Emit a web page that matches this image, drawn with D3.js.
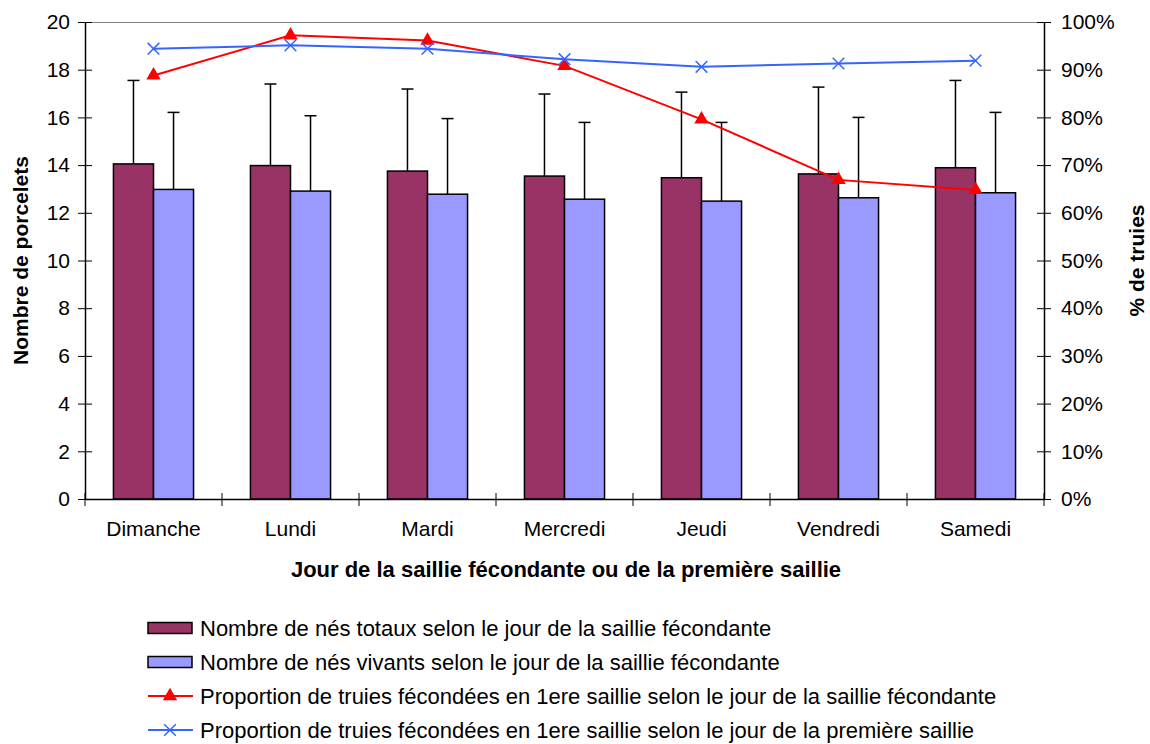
<!DOCTYPE html>
<html>
<head>
<meta charset="utf-8">
<script src="https://cdn.jsdelivr.net/npm/d3@7"></script>
<style>
  body { margin: 0; background: #fff; }
  text { font-family: "Liberation Sans", Arial, sans-serif; fill: #000; }
</style>
</head>
<body>
<script>
// layout
const width = 1150, height = 744;
const plotLeft = 85, plotRight = 1044, plotTop = 22, plotBottom = 499;

// data
const days = ["Dimanche", "Lundi", "Mardi", "Mercredi", "Jeudi", "Vendredi", "Samedi"];
const totaux = [14.05, 13.98, 13.75, 13.54, 13.47, 13.63, 13.89];
const totauxErr = [17.55, 17.4, 17.19, 16.98, 17.06, 17.27, 17.55];
const vivants = [12.98, 12.91, 12.78, 12.57, 12.49, 12.63, 12.84];
const vivantsErr = [16.21, 16.07, 15.95, 15.79, 15.79, 16.0, 16.21];
const propFec = [0.888, 0.972, 0.961, 0.908, 0.796, 0.669, 0.648];
const propPrem = [0.944, 0.951, 0.944, 0.922, 0.906, 0.913, 0.919];
const leftTicks = [0, 2, 4, 6, 8, 10, 12, 14, 16, 18, 20];
const rightTicks = [0, 0.1, 0.2, 0.3, 0.4, 0.5, 0.6, 0.7, 0.8, 0.9, 1];
const legendLabels = [
  "Nombre de nés totaux selon le jour de la saillie fécondante",
  "Nombre de nés vivants selon le jour de la saillie fécondante",
  "Proportion de truies fécondées en 1ere saillie selon le jour de la saillie fécondante",
  "Proportion de truies fécondées en 1ere saillie selon le jour de la première saillie"
];

const colTot = "#993366", colViv = "#9999FF", colRed = "#FF0000", colBlue = "#3366FF";

// scales
const x = d3.scaleBand().domain(days).range([plotLeft, plotRight]).padding(0);
const xSub = d3.scaleBand().domain(["tot", "viv"]).range([0, x.bandwidth()])
  .paddingInner(0).paddingOuter(0.71);
const y = d3.scaleLinear().domain([0, 20]).range([plotBottom, plotTop]);
const yR = d3.scaleLinear().domain([0, 1]).range([plotBottom, plotTop]);

const svg = d3.select("body").append("svg")
  .attr("width", width).attr("height", height);

// top border of plot area
svg.append("line")
  .attr("x1", plotLeft).attr("x2", plotRight).attr("y1", plotTop + 0.5).attr("y2", plotTop + 0.5)
  .attr("stroke", "#808080").attr("stroke-width", 1);

// bars
const rows = days.map((d, i) => ({day: d, tot: totaux[i], totE: totauxErr[i], viv: vivants[i], vivE: vivantsErr[i]}));
const series = [
  {key: "tot", val: "tot", err: "totE", color: colTot},
  {key: "viv", val: "viv", err: "vivE", color: colViv}
];

series.forEach(s => {
  const mid = d => x(d.day) + xSub(s.key) + xSub.bandwidth() / 2;
  const eg = svg.append("g").attr("stroke", "#000").attr("stroke-width", 1.5);
  eg.selectAll("line.v").data(rows).enter().append("line")
    .attr("x1", mid).attr("x2", mid)
    .attr("y1", d => y(d[s.val]))
    .attr("y2", d => y(d[s.err]));
  eg.selectAll("line.c").data(rows).enter().append("line")
    .attr("x1", d => mid(d) - 6)
    .attr("x2", d => mid(d) + 6)
    .attr("y1", d => y(d[s.err]))
    .attr("y2", d => y(d[s.err]));

  svg.append("g").selectAll("rect").data(rows).enter().append("rect")
    .attr("x", d => x(d.day) + xSub(s.key))
    .attr("y", d => y(d[s.val]))
    .attr("width", xSub.bandwidth())
    .attr("height", d => y(0) - y(d[s.val]))
    .attr("fill", s.color)
    .attr("stroke", "#000")
    .attr("stroke-width", 1.5);
});

// axes
const leftAxis = d3.axisLeft(y).tickValues(leftTicks).tickSizeInner(7).tickSizeOuter(0).tickPadding(8);
const gL = svg.append("g").attr("transform", `translate(${plotLeft},0)`).call(leftAxis);

const rightAxis = d3.axisRight(yR).tickValues(rightTicks).tickFormat(d3.format(".0%"))
  .tickSizeInner(7).tickSizeOuter(0).tickPadding(10);
const gR = svg.append("g").attr("transform", `translate(${plotRight},0)`).call(rightAxis);

const bottomAxis = d3.axisBottom(x).tickSize(0).tickPadding(22);
const gB = svg.append("g").attr("transform", `translate(0,${plotBottom})`).call(bottomAxis);

[gL, gR, gB].forEach(g => {
  g.select(".domain").attr("stroke", "#000").attr("stroke-width", 1.5);
  g.selectAll("text").style("font-size", "21px").attr("font-family", "Liberation Sans, Arial, sans-serif");
});
// cross ticks
gL.selectAll(".tick line").attr("x1", 7).attr("stroke", "#000");
gR.selectAll(".tick line").attr("x1", -7).attr("stroke", "#000");

// category boundary ticks
svg.append("g").selectAll("line").data(days.concat(["end"])).enter().append("line")
  .attr("x1", (d, i) => i < days.length ? x(d) : x.range()[1])
  .attr("x2", (d, i) => i < days.length ? x(d) : x.range()[1])
  .attr("y1", plotBottom - 6).attr("y2", plotBottom + 7)
  .attr("stroke", "#000").attr("stroke-width", 1);

// lines
const cx = d => x(d) + x.bandwidth() / 2;
const lineGen = vals => d3.line().x((d, i) => cx(days[i])).y(d => yR(d))(vals);

svg.append("path").attr("d", lineGen(propFec))
  .attr("fill", "none").attr("stroke", colRed).attr("stroke-width", 2);
svg.append("path").attr("d", lineGen(propPrem))
  .attr("fill", "none").attr("stroke", colBlue).attr("stroke-width", 2);

const tri = d3.symbol().type(d3.symbolTriangle).size(90);
svg.append("g").selectAll("path").data(propFec).enter().append("path")
  .attr("d", tri)
  .attr("transform", (d, i) => `translate(${cx(days[i])},${yR(d)})`)
  .attr("fill", colRed);

const cross = d3.symbol().type(d3.symbolX).size(90);
svg.append("g").selectAll("path").data(propPrem).enter().append("path")
  .attr("d", cross)
  .attr("transform", (d, i) => `translate(${cx(days[i])},${yR(d)})`)
  .attr("fill", "none").attr("stroke", colBlue).attr("stroke-width", 1.5);

// axis titles
svg.append("text")
  .attr("transform", `translate(28,${(plotTop + plotBottom) / 2}) rotate(-90)`)
  .attr("text-anchor", "middle")
  .style("font-size", "21px").style("font-weight", "bold")
  .text("Nombre de porcelets");

svg.append("text")
  .attr("transform", `translate(1144,${(plotTop + plotBottom) / 2}) rotate(-90)`)
  .attr("text-anchor", "middle")
  .style("font-size", "21px").style("font-weight", "bold")
  .text("% de truies");

svg.append("text")
  .attr("x", 566).attr("y", 577)
  .attr("text-anchor", "middle")
  .style("font-size", "22px").style("font-weight", "bold")
  .text("Jour de la saillie fécondante ou de la première saillie");

// legend
const legY = [628, 662, 696, 730];
const leg = svg.append("g");
legendLabels.forEach((lab, i) => {
  const g = leg.append("g").attr("transform", `translate(148,${legY[i]})`);
  if (i < 2) {
    g.append("rect").attr("x", 0).attr("y", -5.5).attr("width", 44).attr("height", 11)
      .attr("fill", i === 0 ? colTot : colViv).attr("stroke", "#000").attr("stroke-width", 1.5);
  } else {
    const c = i === 2 ? colRed : colBlue;
    g.append("line").attr("x1", 0).attr("x2", 45).attr("y1", 0).attr("y2", 0)
      .attr("stroke", c).attr("stroke-width", 2);
    g.append("path").attr("d", i === 2 ? tri() : cross())
      .attr("transform", "translate(22,0)")
      .attr("fill", i === 2 ? colRed : "none")
      .attr("stroke", i === 2 ? "none" : colBlue).attr("stroke-width", 1.5);
  }
  g.append("text").attr("x", 52).attr("y", 0).attr("dy", "0.35em")
    .style("font-size", "22px").text(lab);
});
</script>
</body>
</html>
